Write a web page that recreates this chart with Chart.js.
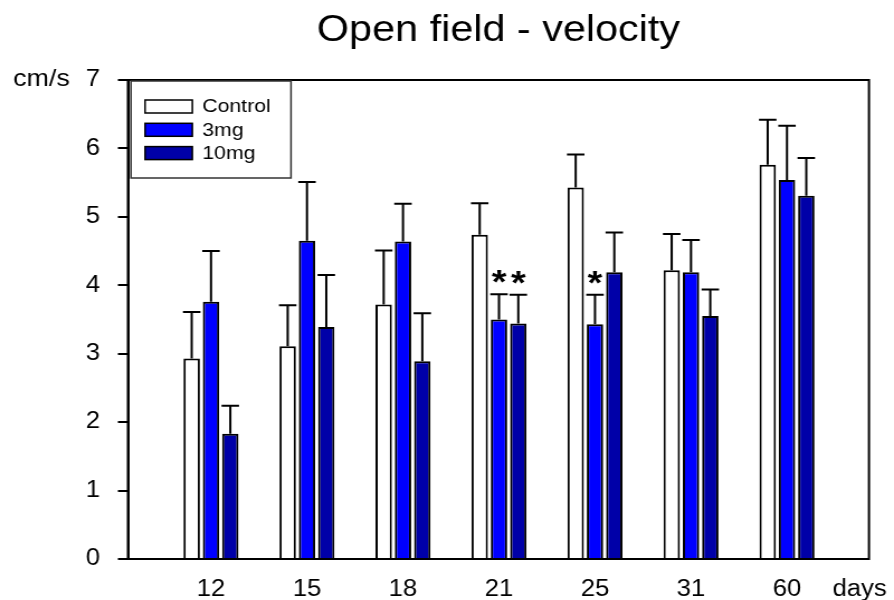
<!DOCTYPE html>
<html>
<head>
<meta charset="utf-8">
<script src="https://cdn.jsdelivr.net/npm/chart.js@4.4.1/dist/chart.umd.min.js"></script>
<style>
  html, body { margin: 0; padding: 0; background: #fff; overflow: hidden; }
  #wrap { width: 800px; height: 600px; transform: scaleX(1.1175); transform-origin: 0 0; }
</style>
</head>
<body>
<div id="wrap"><canvas id="velocidadeChart" width="800" height="600"></canvas></div>
<script>
// dias de teste
const categories = ['12', '15', '18', '21', '25', '31', '60'];
const seriesNames = ['Control', '3mg', '10mg'];

// medias (cm/s)
const controlVals = [2.93, 3.11, 3.72, 4.74, 5.43, 4.22, 5.76];
const mg3Vals     = [3.76, 4.65, 4.64, 3.50, 3.43, 4.19, 5.54];
const mg10Vals    = [1.83, 3.39, 2.89, 3.44, 4.19, 3.55, 5.31];

// erro padrao (barra de erro para cima)
const controlErr = [0.68, 0.60, 0.79, 0.46, 0.48, 0.53, 0.66];
const mg3Err     = [0.74, 0.86, 0.55, 0.37, 0.43, 0.47, 0.79];
const mg10Err    = [0.41, 0.76, 0.70, 0.42, 0.58, 0.39, 0.55];

// asteriscos de significancia
const controlStars = [0, 0, 0, 0, 0, 0, 0];
const mg3Stars     = [0, 0, 0, 1, 1, 0, 0];
const mg10Stars    = [0, 0, 0, 1, 0, 0, 0];

const yTicks = [0, 1, 2, 3, 4, 5, 6, 7];

const FONT = 'Liberation Sans, Arial, Helvetica, sans-serif';

function toPoints(vals) {
    return vals.map((v, i) => ({ x: i, y: v }));
}

const errs = [controlErr, mg3Err, mg10Err];
const stars = [controlStars, mg3Stars, mg10Stars];

const decoracao = {
    id: 'decoracao',
    afterDatasetsDraw(chart) {
        const ctx = chart.ctx;
        const y = chart.scales.y;
        ctx.save();
        ctx.strokeStyle = '#000';
        ctx.fillStyle = '#000';
        ctx.lineWidth = 2;
        chart.data.datasets.forEach((ds, d) => {
            const meta = chart.getDatasetMeta(d);
            meta.data.forEach((bar, i) => {
                const val = ds.data[i].y;
                const top = y.getPixelForValue(val + errs[d][i]);
                const half = bar.width / 2 + 0.5;
                ctx.beginPath();
                ctx.moveTo(bar.x, bar.y);
                ctx.lineTo(bar.x, top);
                ctx.moveTo(bar.x - half, top);
                ctx.lineTo(bar.x + half, top);
                ctx.stroke();
                if (stars[d][i]) {
                    ctx.font = 'bold 34px ' + FONT;
                    ctx.textAlign = 'center';
                    ctx.textBaseline = 'alphabetic';
                    ctx.fillText('*', bar.x, top - 1);
                }
            });
        });
        ctx.restore();
    },
    afterDraw(chart) {
        const ctx = chart.ctx;
        const a = chart.chartArea;
        ctx.save();
        // moldura
        ctx.strokeStyle = '#000';
        ctx.lineWidth = 2;
        ctx.strokeRect(a.left, a.top, a.right - a.left, a.bottom - a.top);

        // titulo
        ctx.fillStyle = '#000';
        ctx.font = '37px ' + FONT;
        ctx.textAlign = 'center';
        ctx.textBaseline = 'middle';
        ctx.fillText('Open field - velocity', (a.left + a.right) / 2, 31);

        // unidades
        ctx.font = '24px ' + FONT;
        ctx.textAlign = 'right';
        ctx.fillText('cm/s', 62.5, 79);
        ctx.font = '23px ' + FONT;
        ctx.textAlign = 'left';
        ctx.textBaseline = 'alphabetic';
        ctx.fillText('days', 745, 596);

        // legenda
        ctx.lineWidth = 1.5;
        ctx.strokeStyle = '#333';
        ctx.strokeRect(117.2, 81, 143.2, 97);
        ctx.font = '19px ' + FONT;
        ctx.textBaseline = 'middle';
        chart.data.datasets.forEach((ds, d) => {
            const ty = 100 + d * 23.3;
            ctx.fillStyle = ds.backgroundColor;
            ctx.fillRect(129.8, ty, 42.3, 13);
            ctx.strokeStyle = '#000';
            ctx.strokeRect(129.8, ty, 42.3, 13);
            ctx.fillStyle = '#000';
            ctx.fillText(ds.label, 181, ty + 7);
        });
        ctx.restore();
    }
};

const ctx = document.getElementById('velocidadeChart').getContext('2d');
new Chart(ctx, {
    type: 'bar',
    data: {
        datasets: [
            { label: seriesNames[0], data: toPoints(controlVals), backgroundColor: '#ffffff', borderColor: '#000', borderWidth: 2 },
            { label: seriesNames[1], data: toPoints(mg3Vals), backgroundColor: '#0000ff', borderColor: '#000', borderWidth: 2 },
            { label: seriesNames[2], data: toPoints(mg10Vals), backgroundColor: '#0000a8', borderColor: '#000', borderWidth: 2 }
        ]
    },
    options: {
        responsive: false,
        animation: false,
        devicePixelRatio: 1,
        categoryPercentage: 0.603,
        barPercentage: 0.85,
        layout: { padding: { top: 80, right: 22.4, left: 0, bottom: 0 } },
        plugins: {
            legend: { display: false },
            tooltip: { enabled: false },
            title: { display: false }
        },
        scales: {
            x: {
                type: 'linear',
                offset: false,
                min: -0.865,
                max: 6.854,
                afterFit: s => { s.height = 41; },
                grid: { display: false, offset: false },
                border: { display: true, color: '#000', width: 2 },
                ticks: {
                    stepSize: 1,
                    includeBounds: false,
                    autoSkip: false,
                    maxRotation: 0,
                    padding: 9,
                    color: '#000',
                    font: { family: FONT, size: 23 },
                    callback: v => categories[v] !== undefined ? categories[v] : ''
                }
            },
            y: {
                min: 0,
                max: 7,
                afterFit: s => { s.width = 114.5; },
                afterBuildTicks: s => { s.ticks = yTicks.map(v => ({ value: v })); },
                grid: { drawOnChartArea: false, drawTicks: true, tickLength: 9, color: '#000', lineWidth: 2 },
                border: { display: true, color: '#000', width: 2 },
                ticks: {
                    padding: 16,
                    color: '#000',
                    font: { family: FONT, size: 23 }
                }
            }
        }
    },
    plugins: [decoracao]
});
</script>
</body>
</html>
